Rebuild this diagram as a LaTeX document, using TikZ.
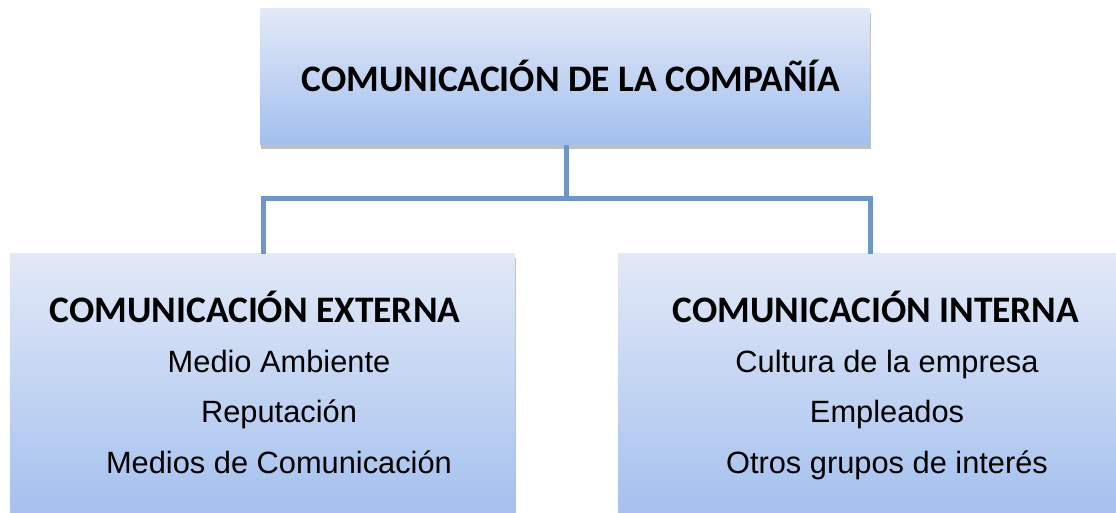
\documentclass[tikz,border=0pt]{standalone}
\usepackage{fontspec}
\setmainfont{Liberation Sans}
\newfontfamily\headfont{Carlito}
\usepackage{xcolor}
\usetikzlibrary{calc,shadows}

\definecolor{boxtop}{HTML}{E2E9F7}
\definecolor{boxbot}{HTML}{A2BFEE}
\definecolor{linkblue}{HTML}{6F96C8}

\tikzset{
    unitbox/.style={rectangle, inner sep=0pt, top color=boxtop, bottom color=boxbot,
        drop shadow={shadow xshift=1pt, shadow yshift=-4pt, opacity=0.25, fill=black}},
    headtext/.style={font=\headfont\bfseries\fontsize{37.4}{44}\selectfont,
        text height=0.7em, text depth=0.2em},
    itemtext/.style={font=\fontsize{30.8}{36}\selectfont,
        text height=0.72em, text depth=0.22em},
    link/.style={draw=linkblue, line width=5pt}
}

\begin{document}
\begin{tikzpicture}[x=1pt,y=1pt]
    \useasboundingbox (0,0) rectangle (1116,513);

    \node[unitbox, minimum width=610pt, minimum height=136pt] (top) at (565,436) {};
    \node[unitbox, minimum width=505pt, minimum height=270pt] (ext) at (262.5,124) {};
    \node[unitbox, minimum width=508pt, minimum height=270pt] (int) at (872,124) {};

    \node[headtext] (t0) at (571,424) {COMUNICACIÓN DE LA COMPAÑÍA};

    \node[headtext] (e0) at (255,193) {COMUNICACIÓN EXTERNA};
    \node[itemtext] (e1) at (279,143) {Medio Ambiente};
    \node[itemtext] (e2) at (279,93) {Reputación};
    \node[itemtext] (e3) at (279,42) {Medios de Comunicación};

    \node[headtext] (i0) at (876,193) {COMUNICACIÓN INTERNA};
    \node[itemtext] (i1) at (887,143) {Cultura de la empresa};
    \node[itemtext] (i2) at (887,93) {Empleados};
    \node[itemtext] (i3) at (887,42) {Otros grupos de interés};

    \coordinate (bus) at (566,314);
    \coordinate (busl) at (263,314);
    \coordinate (busr) at (870,314);

    \draw[link] (566,0 |- top.south) -- (bus);
    \draw[link] (busl |- ext.north) -- (busl) -- (busr) -- (busr |- int.north);
\end{tikzpicture}
\end{document}
